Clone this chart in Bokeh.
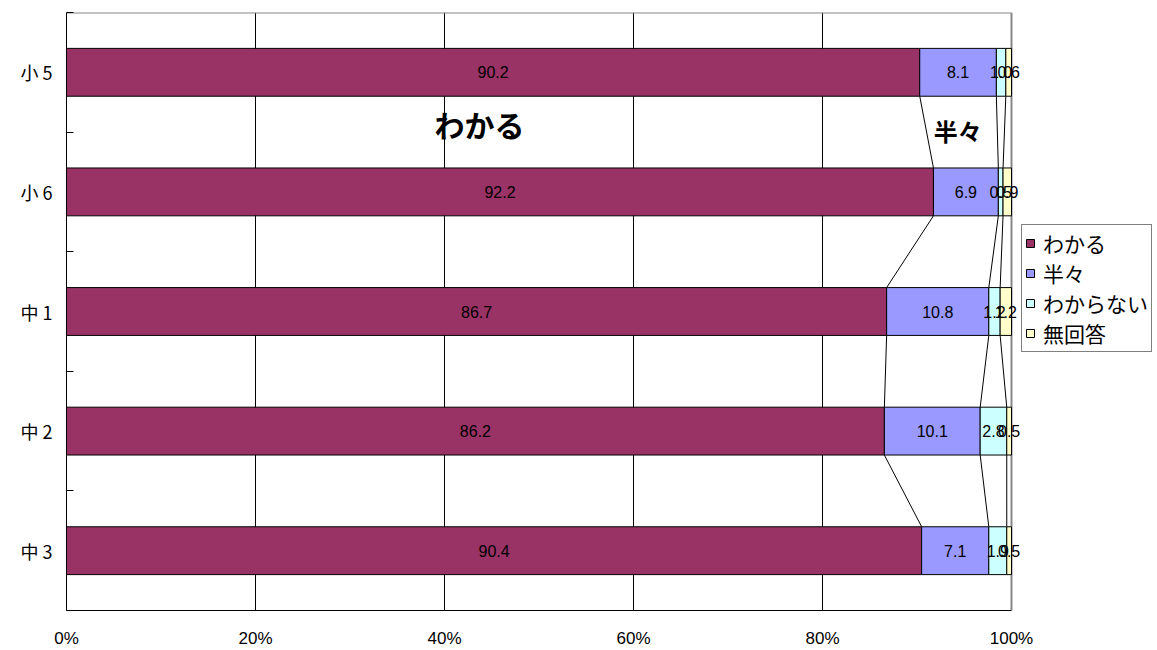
from bokeh.plotting import figure
from bokeh.models import Range1d, FixedTicker, Legend, LegendItem, ColumnDataSource
from bokeh.core.properties import value
from bokeh.embed import file_html
from bokeh.resources import INLINE

# ---- data ----
categories = ["小 5", "小 6", "中 1", "中 2", "中 3"]
series_names = ["わかる", "半々", "わからない", "無回答"]
wakaru = [90.2, 92.2, 86.7, 86.2, 90.4]
hanhan = [8.1, 6.9, 10.8, 10.1, 7.1]
wakaranai = [1.0, 0.5, 1.2, 2.8, 1.9]
mukaitou = [0.6, 0.9, 1.2, 0.5, 0.5]
x_ticks = [0, 20, 40, 60, 80, 100]
x_tick_labels = ["0%", "20%", "40%", "60%", "80%", "100%"]
colors = ["#993366", "#9999FF", "#CCFFFF", "#FFFFCC"]

series = [wakaru, hanhan, wakaranai, mukaitou]
n = len(categories)
ycent = [i + 0.5 for i in range(n)]
bar_h = 0.4

# normalize (100% stacked)
totals = [sum(s[i] for s in series) for i in range(n)]
norm = [[s[i] / totals[i] * 100 for i in range(n)] for s in series]
cum = []
running = [0.0] * n
lefts = []
for k in range(len(series)):
    lefts.append(list(running))
    running = [running[i] + norm[k][i] for i in range(n)]
    cum.append(list(running))

# frame spans to the right edge of the page; 0% at x=66, 100% at x=1011
x_end = 100 * (1157 - 66) / 945.0
p = figure(width=1157, height=650, output_backend="svg", toolbar_location=None,
           x_range=Range1d(0, x_end), y_range=Range1d(n, 0),
           min_border_left=66, min_border_right=0, min_border_top=12, min_border_bottom=40)
p.background_fill_color = "white"
p.border_fill_color = "white"
p.outline_line_color = None

# grid
p.ygrid.visible = False
p.xgrid.ticker = FixedTicker(ticks=x_ticks[1:-1])
p.xgrid.grid_line_color = "black"
p.xgrid.grid_line_width = 1

# plot-area border (grey top and right)
p.segment(x0=[0, 100], y0=[0, 0], x1=[100, 100], y1=[0, n], line_color="#888888", line_width=2)

# series lines
xs0, ys0, xs1, ys1 = [], [], [], []
for k in range(3):
    for i in range(n - 1):
        xs0.append(cum[k][i]); ys0.append(ycent[i] + bar_h / 2)
        xs1.append(cum[k][i + 1]); ys1.append(ycent[i + 1] - bar_h / 2)
p.segment(x0=xs0, y0=ys0, x1=xs1, y1=ys1, line_color="black", line_width=1)

renderers = []
for k in range(len(series)):
    src = ColumnDataSource(dict(y=ycent, left=lefts[k], right=cum[k]))
    r = p.hbar(y="y", left="left", right="right", height=bar_h, source=src,
               fill_color=colors[k], line_color="black", line_width=1)
    renderers.append(r)

# value labels
for k in range(len(series)):
    mids = [(lefts[k][i] + cum[k][i]) / 2 for i in range(n)]
    labels = [f"{v:.1f}" for v in series[k]]
    p.text(x=mids, y=ycent, text=labels, text_align="center", text_baseline="middle",
           text_font=value("Liberation Sans"), text_font_size="16px", text_color="black")

# annotations
p.text(x=[43.7], y=[0.93], text=["わかる"], text_align="center", text_baseline="middle",
       text_font=value("Noto Sans CJK JP"), text_font_style="bold", text_font_size="30px",
       text_color="black")
p.text(x=[94.3], y=[0.985], text=["半々"], text_align="center", text_baseline="middle",
       text_font=value("Noto Sans CJK JP"), text_font_style="bold", text_font_size="24px",
       text_color="black")

# axes
p.xaxis.ticker = FixedTicker(ticks=x_ticks)
p.xaxis.bounds = (0, 100)
p.xaxis.major_label_overrides = {t: l for t, l in zip(x_ticks, x_tick_labels)}
p.xaxis.major_tick_out = 0
p.xaxis.major_tick_in = 0
p.xaxis.minor_tick_out = 0
p.xaxis.axis_line_color = "black"
p.xaxis.major_label_standoff = 18
p.xaxis.major_label_text_font = "Liberation Sans"
p.xaxis.major_label_text_font_size = "17px"
p.xaxis.major_label_text_color = "black"

p.yaxis.ticker = FixedTicker(ticks=ycent, minor_ticks=list(range(n + 1)))
p.yaxis.major_label_overrides = {c: l for c, l in zip(ycent, categories)}
p.yaxis.major_tick_out = 0
p.yaxis.major_tick_in = 0
p.yaxis.minor_tick_in = 7
p.yaxis.minor_tick_out = 0
p.yaxis.minor_tick_line_color = "black"
p.yaxis.axis_line_color = "black"
p.yaxis.major_label_standoff = 14
p.yaxis.major_label_text_font = "Noto Sans CJK JP"
p.yaxis.major_label_text_font_size = "18px"
p.yaxis.major_label_text_color = "black"

legend = Legend(items=[LegendItem(label=series_names[k], renderers=[renderers[k]]) for k in range(4)],
                location=(955, 258), orientation="vertical")
legend.label_text_font = "Noto Sans CJK JP"
legend.label_text_font_size = "21px"
legend.label_text_color = "black"
legend.glyph_width = 10
legend.glyph_height = 10
legend.label_height = 27
legend.label_standoff = 8
legend.spacing = 0
legend.padding = 3
legend.margin = 0
legend.border_line_color = "black"
legend.border_line_width = 1
legend.background_fill_color = "white"
legend.background_fill_alpha = 1
p.add_layout(legend, "center")

open("out.html", "w").write(file_html(p, INLINE))
